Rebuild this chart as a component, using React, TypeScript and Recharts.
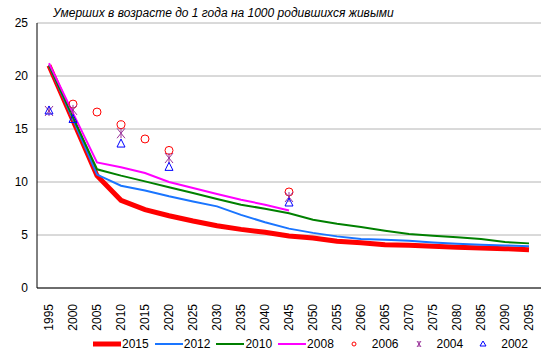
import React from "react";
import {
  CartesianGrid,
  Legend,
  Line,
  LineChart,
  YAxis,
  XAxis,
} from "recharts";

const years = [
  "1995", "2000", "2005", "2010", "2015", "2020", "2025", "2030", "2035", "2040", "2045",
  "2050", "2055", "2060", "2065", "2070", "2075", "2080", "2085", "2090", "2095",
];

const f2015 = [21.0, 15.8, 10.6, 8.27, 7.39, 6.82, 6.32, 5.88, 5.53, 5.25, 4.9, 4.72, 4.42, 4.27, 4.08, 4.03, 3.94, 3.84, 3.77, 3.71, 3.62];
const f2012 = [21.0, 15.9, 10.7, 9.65, 9.2, 8.65, 8.17, 7.7, 6.9, 6.2, 5.6, 5.2, 4.87, 4.62, 4.56, 4.46, 4.3, 4.18, 4.08, 4.02, 3.93];
const f2010 = [21.0, 16.1, 11.2, 10.6, 10.06, 9.5, 8.96, 8.4, 7.86, 7.48, 7.05, 6.44, 6.06, 5.75, 5.4, 5.09, 4.93, 4.78, 4.62, 4.34, 4.21];
const f2008 = [21.2, 16.5, 11.85, 11.4, 10.85, 10.0, 9.43, 8.87, 8.33, 7.86, 7.32, null, null, null, null, null, null, null, null, null, null];
const f2006 = [null, 17.35, 16.6, 15.4, 14.06, 12.98, null, null, null, null, 9.06, null, null, null, null, null, null, null, null, null, null];
const f2004 = [16.7, 16.8, null, 14.6, null, 12.26, null, null, null, null, 8.58, null, null, null, null, null, null, null, null, null, null];
const f2002 = [16.7, 15.9, null, 13.58, null, 11.38, null, null, null, null, 8.02, null, null, null, null, null, null, null, null, null, null];

const yTicks = [0, 5, 10, 15, 20, 25];

const data = years.map((year, i) => ({
  year,
  "2015": f2015[i],
  "2012": f2012[i],
  "2010": f2010[i],
  "2008": f2008[i],
  "2006": f2006[i],
  "2004": f2004[i],
  "2002": f2002[i],
}));

const FONT = "'Liberation Sans', Arial, sans-serif";

function Circle({ cx, cy }: any) {
  if (cy == null || isNaN(cy)) return <g />;
  return <circle cx={cx} cy={cy} r={4} fill="none" stroke="#FF0000" strokeWidth={1} />;
}

function Star({ cx, cy }: any) {
  if (cy == null || isNaN(cy)) return <g />;
  return (
    <g stroke="#993399" strokeWidth={1}>
      <line x1={cx - 4} y1={cy - 5} x2={cx + 4} y2={cy + 5} />
      <line x1={cx + 4} y1={cy - 5} x2={cx - 4} y2={cy + 5} />
      <line x1={cx} y1={cy - 5} x2={cx} y2={cy + 5} />
    </g>
  );
}

function Triangle({ cx, cy }: any) {
  if (cy == null || isNaN(cy)) return <g />;
  return (
    <polygon
      points={`${cx},${cy - 5} ${cx + 4},${cy + 3} ${cx - 4},${cy + 3}`}
      fill="none"
      stroke="#0000FF"
      strokeWidth={1}
    />
  );
}

function XTick({ x, y, payload }: any) {
  return (
    <g transform={`translate(${x},${y})`}>
      <text
        transform="rotate(-90)"
        x={-8}
        y={0}
        dy={4}
        textAnchor="end"
        fontSize={12}
        fontFamily={FONT}
        fill="#000"
      >
        {payload.value}
      </text>
    </g>
  );
}

function LegendBox() {
  const lineItem = (label: string, color: string, w: number) => (
    <div style={{ display: "flex", alignItems: "center", marginRight: 6 }}>
      <svg width={28} height={8}>
        <line x1={0} y1={4} x2={28} y2={4} stroke={color} strokeWidth={w} />
      </svg>
      <span style={{ marginLeft: 1 }}>{label}</span>
    </div>
  );
  const markItem = (label: string, mark: React.ReactNode) => (
    <div style={{ display: "flex", alignItems: "center", marginRight: 6 }}>
      <svg width={28} height={12}>
        {mark}
      </svg>
      <span style={{ marginLeft: 4 }}>{label}</span>
    </div>
  );
  return (
    <div
      style={{
        display: "flex",
        alignItems: "center",
        paddingLeft: 93,
        height: 18,
        fontFamily: FONT,
        fontSize: 12,
        color: "#000",
      }}
    >
      {lineItem("2015", "#FF0000", 5)}
      {lineItem("2012", "#1A75FF", 2)}
      {lineItem("2010", "#008000", 2)}
      {lineItem("2008", "#FF00FF", 2)}
      {markItem("2006", <circle cx={14} cy={6} r={2} fill="none" stroke="#FF0000" />)}
      {markItem(
        "2004",
        <g stroke="#993399">
          <line x1={12} y1={3} x2={16} y2={9} />
          <line x1={16} y1={3} x2={12} y2={9} />
          <line x1={14} y1={3} x2={14} y2={9} />
        </g>
      )}
      {markItem("2002", <polygon points="14,3 17,8 11,8" fill="none" stroke="#0000FF" />)}
    </div>
  );
}

export default function App() {
  return (
    <div style={{ position: "absolute", left: 0, top: 0, width: 554, height: 359, background: "#fff" }}>
      <div
        style={{
          position: "absolute",
          left: 53,
          top: 6,
          fontFamily: FONT,
          fontStyle: "italic",
          fontSize: 12,
          color: "#000",
          whiteSpace: "nowrap",
          zIndex: 2,
        }}
      >
        Умерших в возрасте до 1 года на 1000 родившихся живыми
      </div>
      <LineChart
        width={554}
        height={359}
        data={data}
        margin={{ top: 23, right: 13, left: 0, bottom: 0 }}
      >
        <CartesianGrid horizontal vertical={false} stroke="#b4b4b4" />
        <XAxis
          dataKey="year"
          interval={0}
          height={47}
          padding={{ left: 12, right: 12 }}
          tickLine={false}
          axisLine={{ stroke: "#000" }}
          tick={<XTick />}
        />
        <YAxis
          domain={[0, 25]}
          ticks={yTicks}
          width={37}
          tickLine={false}
          axisLine={{ stroke: "#000" }}
          tick={{ fontSize: 12, fill: "#000", fontFamily: FONT }}
          tickMargin={3}
        />
        <YAxis
          yAxisId="right"
          orientation="right"
          width={0}
          tick={false}
          tickLine={false}
          axisLine={{ stroke: "#8c8c8c" }}
        />
        <Legend verticalAlign="bottom" height={24} content={<LegendBox />} />
        <Line dataKey="2015" stroke="#FF0000" strokeWidth={5} dot={false} activeDot={false} isAnimationActive={false} />
        <Line dataKey="2012" stroke="#1A75FF" strokeWidth={2} dot={false} activeDot={false} isAnimationActive={false} />
        <Line dataKey="2010" stroke="#008000" strokeWidth={2} dot={false} activeDot={false} isAnimationActive={false} />
        <Line dataKey="2008" stroke="#FF00FF" strokeWidth={2} dot={false} activeDot={false} isAnimationActive={false} />
        <Line dataKey="2006" stroke="none" dot={<Circle />} activeDot={false} isAnimationActive={false} />
        <Line dataKey="2004" stroke="none" dot={<Star />} activeDot={false} isAnimationActive={false} />
        <Line dataKey="2002" stroke="none" dot={<Triangle />} activeDot={false} isAnimationActive={false} />
      </LineChart>
    </div>
  );
}
